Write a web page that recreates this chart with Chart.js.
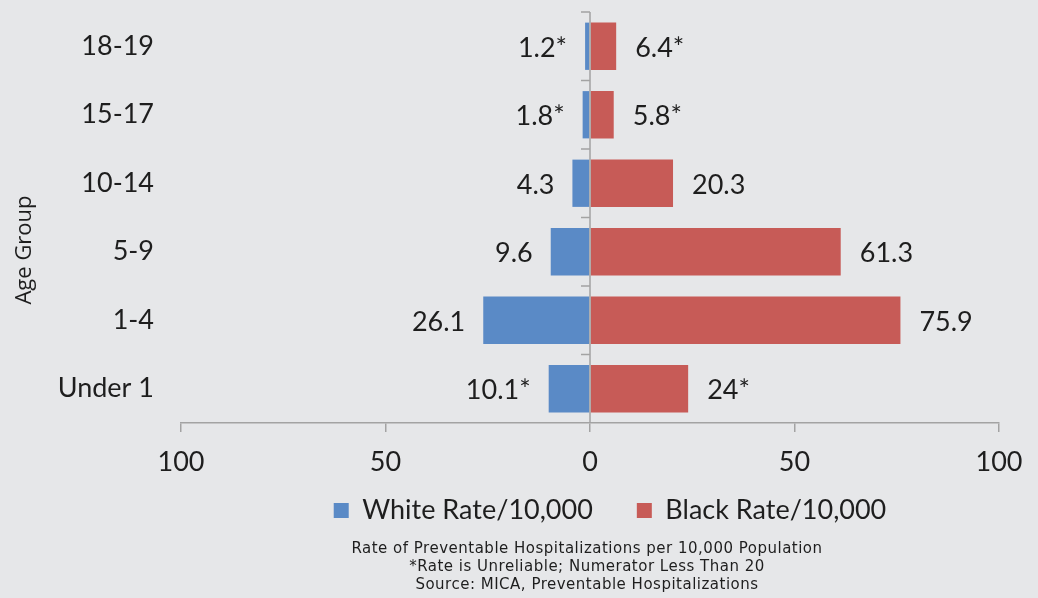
<!DOCTYPE html>
<html>
<head>
<meta charset="utf-8">
<script src="https://cdn.jsdelivr.net/npm/chart.js@4/dist/chart.umd.min.js"></script>
<style>
  html, body { margin: 0; padding: 0; background: #e6e7e9; }
  #wrap { width: 1038px; height: 598px; }
</style>
</head>
<body>
<div id="wrap"><canvas id="chart"></canvas></div>
<script>
// age groups, top to bottom as in the picture
const ageGroups = ['18-19', '15-17', '10-14', '5-9', '1-4', 'Under 1'];
const whiteRate = [1.2, 1.8, 4.3, 9.6, 26.1, 10.1];
const blackRate = [6.4, 5.8, 20.3, 61.3, 75.9, 24];
// * = rate unreliable (numerator < 20)
const whiteUnreliable = [true, true, false, false, false, true];
const blackUnreliable = [true, true, false, false, false, true];
const xTicks = [-100, -50, 0, 50, 100];
const footerLines = [
    'Rate of Preventable Hospitalizations per 10,000 Population',
    '*Rate is Unreliable; Numerator Less Than 20',
    'Source: MICA, Preventable Hospitalizations'
];

const BLUE = '#5a8ac6';
const RED = '#c75b57';
const AXIS = '#a3a3a3';
const TEXT = '#1e1e1e';
const FONT = 'Lato, "Open Sans", sans-serif';

Chart.defaults.font.family = FONT;
Chart.defaults.color = TEXT;

// value labels, center line, y boundary ticks, axis title and footer
const extras = {
    id: 'extras',
    afterLayout(chart) {
        // nudge legend up/right to sit like the original
        const lg = chart.legend;
        lg.top -= 25; lg.bottom -= 25;
        lg.left += 20; lg.right += 20;
    },
    afterDatasetsDraw(chart) {
        const ctx = chart.ctx;
        const x = chart.scales.x, y = chart.scales.y;
        const zero = x.getPixelForValue(0);
        const area = chart.chartArea;

        ctx.save();
        // center (category) axis line
        ctx.strokeStyle = AXIS;
        ctx.lineWidth = 1.5;
        ctx.beginPath();
        ctx.moveTo(zero, area.top);
        ctx.lineTo(zero, area.bottom);
        // tick marks at category boundaries
        const step = (area.bottom - area.top) / ageGroups.length;
        for (let i = 0; i < ageGroups.length; i++) {
            const by = y.getPixelForValue(i) - step / 2;
            ctx.moveTo(zero, by);
            ctx.lineTo(zero - 9, by);
        }
        ctx.stroke();

        // value labels
        ctx.font = '27px ' + FONT;
        ctx.fillStyle = TEXT;
        ctx.textBaseline = 'middle';
        chart.getDatasetMeta(0).data.forEach((bar, i) => {
            ctx.textAlign = 'right';
            ctx.fillText(whiteRate[i] + (whiteUnreliable[i] ? '*' : ''), bar.x - 18, bar.y + 2);
        });
        chart.getDatasetMeta(1).data.forEach((bar, i) => {
            ctx.textAlign = 'left';
            ctx.fillText(blackRate[i] + (blackUnreliable[i] ? '*' : ''), bar.x + 19, bar.y + 2);
        });

        // axis title
        ctx.save();
        ctx.translate(25, 250);
        ctx.rotate(-Math.PI / 2);
        ctx.textAlign = 'center';
        ctx.font = '22px "Open Sans", sans-serif';
        ctx.fillText('Age Group', 0, 0);
        ctx.restore();

        // footer notes
        ctx.textAlign = 'center';
        ctx.font = '15px "DejaVu Sans", sans-serif';
        ctx.letterSpacing = '0.5px';
        footerLines.forEach((t, i) => ctx.fillText(t, 587, 549 + i * 18));
        ctx.restore();
    }
};

new Chart(document.getElementById('chart'), {
    type: 'bar',
    data: {
        labels: ageGroups,
        datasets: [{
            label: 'White Rate/10,000',
            data: whiteRate.map(v => -v),
            backgroundColor: BLUE,
            barPercentage: 0.69,
            categoryPercentage: 1
        }, {
            label: 'Black Rate/10,000',
            data: blackRate,
            backgroundColor: RED,
            barPercentage: 0.69,
            categoryPercentage: 1
        }]
    },
    options: {
        indexAxis: 'y',
        responsive: true,
        maintainAspectRatio: false,
        animation: false,
        layout: { padding: { top: 12, right: 39, bottom: 39, left: 0 } },
        scales: {
            x: {
                stacked: true,
                min: -100,
                max: 100,
                afterBuildTicks: s => { s.ticks = xTicks.map(v => ({ value: v })); },
                afterFit: s => { s.height = 55; },
                grid: { drawOnChartArea: false, drawTicks: true, tickLength: 9, color: AXIS, lineWidth: 1.5 },
                border: { display: true, color: AXIS, width: 1.5 },
                ticks: {
                    font: { size: 27 },
                    color: TEXT,
                    padding: 14,
                    maxRotation: 0,
                    callback: v => String(Math.abs(v))
                }
            },
            y: {
                stacked: true,
                afterFit: s => { s.width = 181; s.paddingTop = 0; s.paddingBottom = 0; },
                grid: { display: false, drawTicks: false },
                border: { display: false },
                ticks: { font: { size: 27 }, color: TEXT, padding: 27 }
            }
        },
        plugins: {
            legend: {
                position: 'bottom',
                fullSize: false,
                labels: { boxWidth: 15, boxHeight: 15, font: { size: 27 }, color: TEXT, padding: 44 }
            },
            tooltip: { enabled: false }
        }
    },
    plugins: [extras]
});
</script>
</body>
</html>
